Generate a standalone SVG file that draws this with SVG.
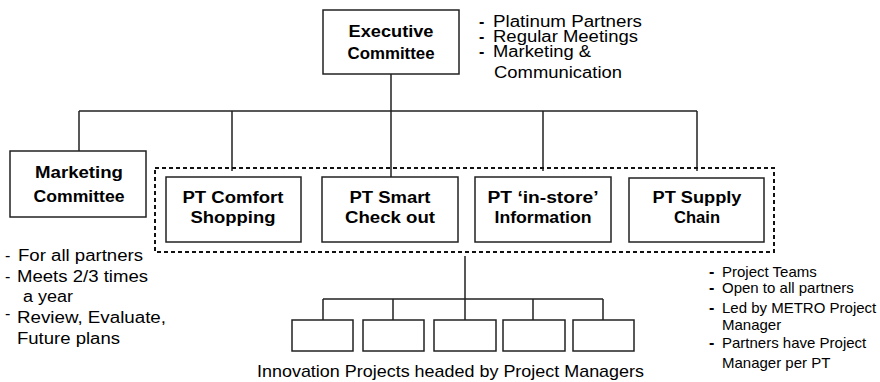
<svg xmlns="http://www.w3.org/2000/svg" width="880" height="382" viewBox="0 0 880 382">
<style>
.box{fill:#fff;stroke:#222;stroke-width:1.5}
.ln{fill:none;stroke:#222;stroke-width:1.5}
.dash{fill:none;stroke:#111;stroke-width:2;stroke-dasharray:4 3}
.b{font-family:"Liberation Sans",Arial,sans-serif;font-weight:bold;font-size:16px;fill:#000;text-anchor:middle}
.t{font-family:"Liberation Sans",Arial,sans-serif;font-size:16px;fill:#000}
.s{font-family:"Liberation Sans",Arial,sans-serif;font-size:15px;fill:#000}
.d{font-family:"Liberation Sans",Arial,sans-serif;font-size:16px;font-weight:bold;fill:#000}
</style>
<rect width="880" height="382" fill="#fff"/>
<g id="connectors">
<path class="ln" d="M391,74V177M79,111H697M79,111V151M232,111V171M543,111V171M697,111V171"/>
<path class="ln" d="M465,256V320M323,299H603M323,299V320M393,299V320M533,299V320M603,299V320"/>
</g>
<g id="pt-group"><rect class="dash" x="155" y="168" width="619" height="84"/></g>
<g id="exec"><rect class="box" x="323" y="10" width="136" height="64"/>
<text class="b" x="391" y="37" textLength="85" lengthAdjust="spacingAndGlyphs">Executive</text>
<text class="b" x="391" y="59" textLength="87" lengthAdjust="spacingAndGlyphs">Committee</text></g>
<g id="marketing"><rect class="box" x="10" y="151" width="136" height="66"/>
<text class="b" x="79" y="178" textLength="88" lengthAdjust="spacingAndGlyphs">Marketing</text>
<text class="b" x="79" y="202" textLength="91" lengthAdjust="spacingAndGlyphs">Committee</text></g>
<g id="pt-comfort"><rect class="box" x="166" y="177" width="135" height="65"/>
<text class="b" x="233" y="203" textLength="101" lengthAdjust="spacingAndGlyphs">PT Comfort</text>
<text class="b" x="233" y="223" textLength="85" lengthAdjust="spacingAndGlyphs">Shopping</text></g>
<g id="pt-smart"><rect class="box" x="322" y="177" width="136" height="65"/>
<text class="b" x="390" y="203" textLength="81" lengthAdjust="spacingAndGlyphs">PT Smart</text>
<text class="b" x="390" y="223" textLength="90" lengthAdjust="spacingAndGlyphs">Check out</text></g>
<g id="pt-instore"><rect class="box" x="475" y="177" width="136" height="65"/>
<text class="b" x="543" y="203" textLength="111" lengthAdjust="spacingAndGlyphs">PT ‘in-store’</text>
<text class="b" x="543" y="223" textLength="97" lengthAdjust="spacingAndGlyphs">Information</text></g>
<g id="pt-supply"><rect class="box" x="629" y="178" width="135" height="64"/>
<text class="b" x="697" y="203" textLength="89" lengthAdjust="spacingAndGlyphs">PT Supply</text>
<text class="b" x="697" y="223" textLength="46" lengthAdjust="spacingAndGlyphs">Chain</text></g>
<g id="projects">
<rect class="box" x="292" y="320" width="61" height="31"/>
<rect class="box" x="363" y="320" width="61" height="31"/>
<rect class="box" x="434" y="320" width="62" height="31"/>
<rect class="box" x="503" y="320" width="62" height="31"/>
<rect class="box" x="573" y="320" width="61" height="31"/>
<text class="t" x="257" y="377" style="font-size:17px" textLength="387" lengthAdjust="spacingAndGlyphs">Innovation Projects headed by Project Managers</text>
</g>
<g id="exec-notes">
<text class="d" x="479" y="27">-</text><text class="t" x="493" y="27" textLength="149" lengthAdjust="spacingAndGlyphs">Platinum Partners</text>
<text class="d" x="479" y="42">-</text><text class="t" x="493" y="42" textLength="145" lengthAdjust="spacingAndGlyphs">Regular Meetings</text>
<text class="d" x="479" y="57">-</text><text class="t" x="493" y="57" textLength="98" lengthAdjust="spacingAndGlyphs">Marketing &amp;</text>
<text class="t" x="494" y="78" textLength="128" lengthAdjust="spacingAndGlyphs">Communication</text>
</g>
<g id="marketing-notes">
<text class="t" x="5" y="261">-</text><text class="t" x="18" y="261" textLength="125" lengthAdjust="spacingAndGlyphs">For all partners</text>
<text class="t" x="5" y="282">-</text><text class="t" x="17" y="282" textLength="131" lengthAdjust="spacingAndGlyphs">Meets 2/3 times</text>
<text class="t" x="23" y="302" textLength="50" lengthAdjust="spacingAndGlyphs">a year</text>
<text class="t" x="5" y="319">-</text><text class="t" x="17" y="323" textLength="149" lengthAdjust="spacingAndGlyphs">Review, Evaluate,</text>
<text class="t" x="17" y="344" textLength="103" lengthAdjust="spacingAndGlyphs">Future plans</text>
</g>
<g id="pt-notes">
<text class="d" x="709" y="277">-</text><text class="s" x="722" y="277">Project Teams</text>
<text class="d" x="709" y="293">-</text><text class="s" x="722" y="293">Open to all partners</text>
<text class="d" x="709" y="313">-</text><text class="s" x="722" y="313">Led by METRO Project</text>
<text class="s" x="722" y="330">Manager</text>
<text class="d" x="709" y="348">-</text><text class="s" x="722" y="348">Partners have Project</text>
<text class="s" x="722" y="368">Manager per PT</text>
</g>
</svg>
